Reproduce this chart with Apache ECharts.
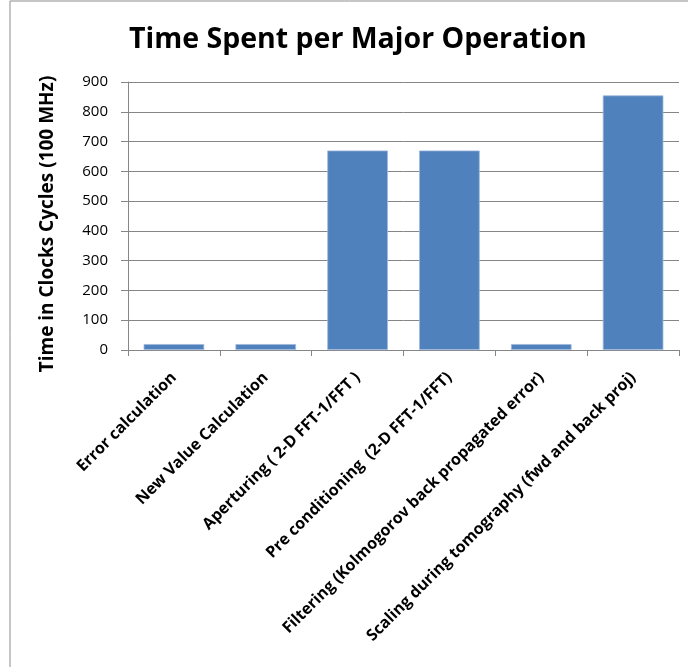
<!DOCTYPE html>
<html><head><meta charset="utf-8">
<script src="https://cdn.jsdelivr.net/npm/echarts@6/dist/echarts.min.js"></script>
<style>html,body{margin:0;padding:0;background:#fff}#c{width:688px;height:667px}</style>
</head><body><div id="c"></div>
<script>
const categories = ["Error calculation","New Value Calculation","Aperturing ( 2-D FFT-1/FFT )","Pre conditioning  (2-D FFT-1/FFT)","Filtering (Kolmogorov back propagated error)","Scaling during tomography (fwd and back proj)"];
const values = [20, 20, 670, 670, 20, 855];
const yTicks = { min: 0, max: 900, interval: 100 };
const titleText = "Time Spent per Major Operation";
const yName = "Time in Clocks Cycles (100 MHz)";

const chart = echarts.init(document.getElementById('c'), null, {renderer:'canvas'});
chart.setOption({
  animation: false,
  backgroundColor: '#fff',
  title: { text: titleText, left: 124, top: 20,
    textStyle: { fontFamily: 'Open Sans', fontWeight: 'bold', fontSize: 28.5, color: '#000' } },
  graphic: [
    { type: 'rect', shape: { x: 10, y: 1, width: 720, height: 720 }, style: { fill: 'none', stroke: '#8c8c8c', lineWidth: 1 }, silent: true },
    { type: 'text', x: 48, y: 224, rotation: Math.PI / 2, silent: true,
      style: { text: yName, fontFamily: 'Open Sans', fontWeight: 'bold', fontSize: 19, fill: '#000', align: 'center', verticalAlign: 'middle' } }
  ],
  grid: { left: 128, right: 9, top: 82, bottom: 317, containLabel: false },
  xAxis: { type: 'category', data: categories,
    axisLine: { lineStyle: { color: '#868686', width: 1 } },
    axisTick: { show: true, length: 6, lineStyle: { color: '#868686' } },
    axisLabel: { rotate: 45, interval: 0, margin: 25, fontFamily: 'Open Sans', fontWeight: 'bold', fontSize: 16, color: '#000' } },
  yAxis: { type: 'value', min: yTicks.min, max: yTicks.max, interval: yTicks.interval,
    axisLine: { show: true, lineStyle: { color: '#868686' } },
    axisTick: { show: true, length: 7, lineStyle: { color: '#868686' } },
    axisLabel: { margin: 20, fontFamily: 'Open Sans', fontSize: 15, color: '#000' },
    splitLine: { show: true, lineStyle: { color: '#868686', width: 1 } } },
  series: [{ type: 'bar', data: values, barCategoryGap: '34%',
    itemStyle: { color: '#4F81BD', borderColor: '#9fb9dc', borderWidth: 0.8 } }]
});
</script></body></html>
